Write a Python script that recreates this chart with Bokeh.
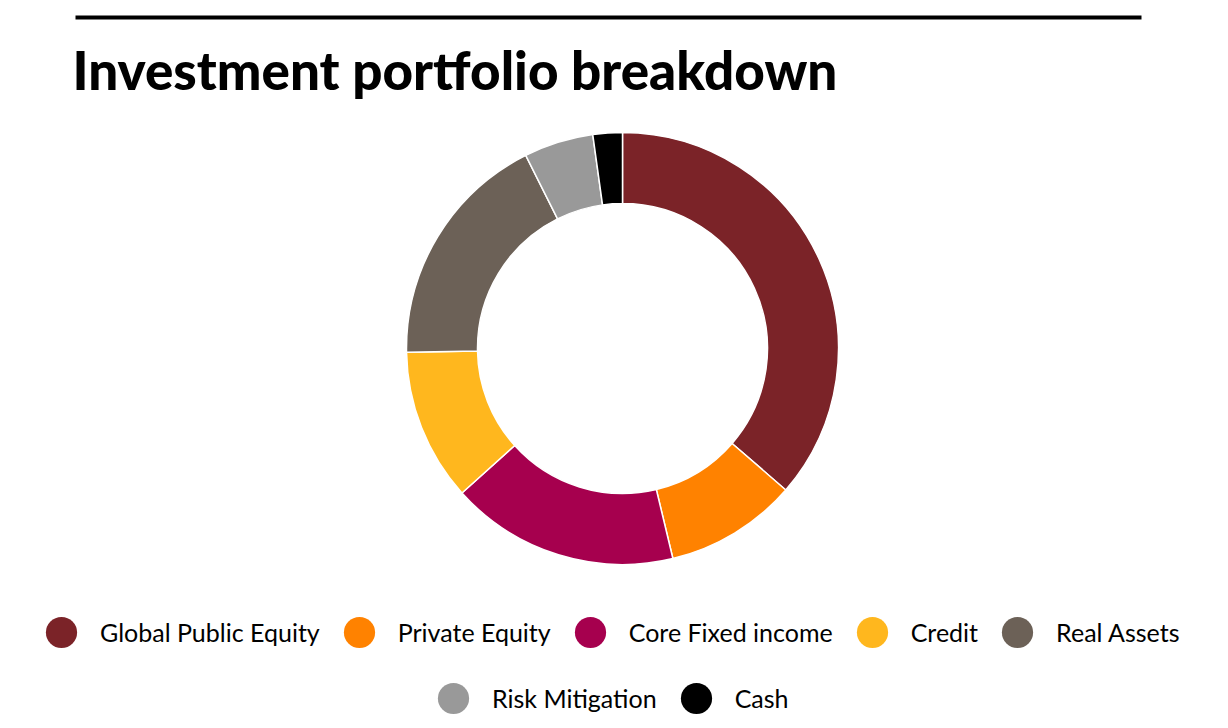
import numpy as np
from bokeh.plotting import figure
from bokeh.models import ColumnDataSource, Legend, LegendItem, Label
from bokeh.embed import file_html
from bokeh.resources import INLINE

# ---- data ----
categories = ["Global Public Equity", "Private Equity", "Core Fixed income",
              "Credit", "Real Assets", "Risk Mitigation", "Cash"]
shares = [36.4, 9.9, 17.1, 11.4, 17.9, 5.2, 2.2]
colors = ["#7B2328", "#FF8200", "#A6004E", "#FFB71E", "#6C6157", "#999999", "#000000"]
title_text = "Investment portfolio breakdown"

# ---- layout constants ----
W, H = 1228, 728
CX, CY = 622, H - 348
R_OUT, R_IN = 216, 145

vals = np.array(shares, dtype=float)
frac = vals / vals.sum()
cum = np.concatenate([[0.0], np.cumsum(frac)])
start = np.pi / 2 - cum[:-1] * 2 * np.pi
end = np.pi / 2 - cum[1:] * 2 * np.pi

src = ColumnDataSource(dict(cat=categories, val=shares, start=start, end=end,
                            color=colors, nx=np.full(len(categories), np.nan),
                            ny=np.full(len(categories), np.nan)))

p = figure(width=W, height=H, x_range=(0, W), y_range=(0, H),
           output_backend="svg", toolbar_location=None, min_border=0)
p.axis.visible = False
p.grid.visible = False
p.outline_line_color = None
p.background_fill_color = "white"

p.annular_wedge(x=CX, y=CY, inner_radius=R_IN, outer_radius=R_OUT,
                start_angle="start", end_angle="end", direction="clock",
                fill_color="color", line_color="white", line_width=1.5, source=src)

# legend proxies (not drawn: NaN coordinates)
proxy = p.scatter(x="nx", y="ny", fill_color="color", line_color=None, size=31, source=src)

# top rule
p.segment(x0=[75], y0=[H - 17], x1=[1141], y1=[H - 17], line_color="black", line_width=4)

title = Label(x=72, y=H - 69, x_units="screen", y_units="screen", text=title_text,
              text_font="Lato Black", text_font_size="53px",
              text_color="black", text_baseline="alphabetic")
p.add_layout(title)

def make_legend(idx, loc):
    items = [LegendItem(label=categories[i], renderers=[proxy], index=i) for i in idx]
    lg = Legend(items=items, orientation="horizontal", location=loc,
                glyph_width=78, glyph_height=78, label_standoff=0, spacing=0,
                padding=0, margin=0, border_line_color=None,
                background_fill_alpha=0, label_text_font="Lato",
                label_text_font_size="25px", label_text_color="black")
    return lg

p.add_layout(make_legend([0, 1, 2, 3, 4], (22, 57)), "center")
p.add_layout(make_legend([5, 6], (414, -9)), "center")

open("out.html", "w").write(file_html(p, INLINE))
